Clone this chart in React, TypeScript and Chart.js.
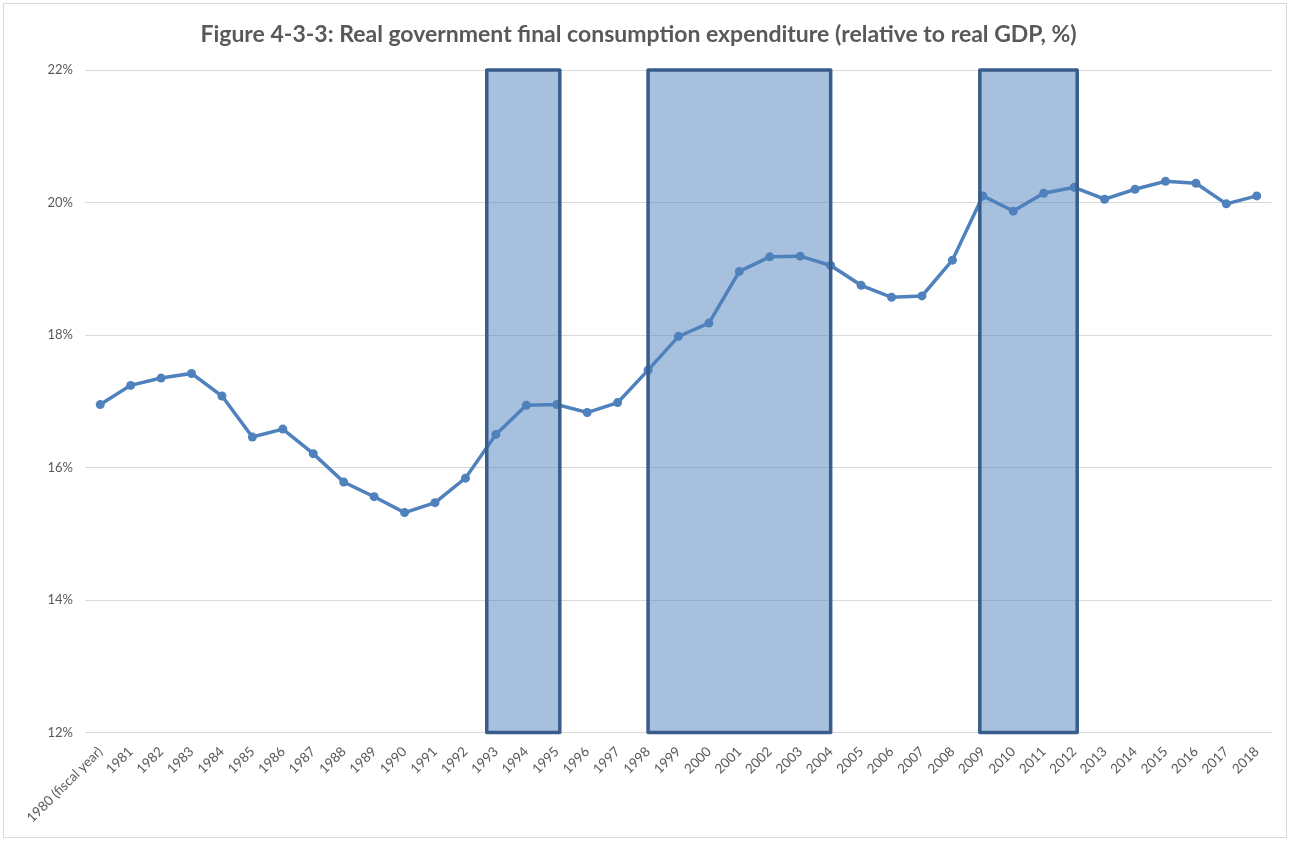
import React, { useEffect, useRef } from "react";
import { Chart, registerables } from "chart.js";

Chart.register(...registerables);

const years: string[] = [
  "1980 (fiscal year)", "1981", "1982", "1983", "1984", "1985", "1986", "1987", "1988", "1989",
  "1990", "1991", "1992", "1993", "1994", "1995", "1996", "1997", "1998", "1999",
  "2000", "2001", "2002", "2003", "2004", "2005", "2006", "2007", "2008", "2009",
  "2010", "2011", "2012", "2013", "2014", "2015", "2016", "2017", "2018",
];

const ratio: number[] = [
  16.95, 17.24, 17.35, 17.42, 17.08, 16.46, 16.58, 16.21, 15.78, 15.56,
  15.32, 15.47, 15.84, 16.5, 16.94, 16.95, 16.83, 16.98, 17.47, 17.98,
  18.18, 18.96, 19.18, 19.19, 19.05, 18.75, 18.57, 18.59, 19.13, 20.1,
  19.87, 20.14, 20.23, 20.05, 20.2, 20.32, 20.29, 19.98, 20.1,
];

// shaded periods, in category index units (start, end)
const periodStarts: number[] = [12.7, 18, 28.9];
const periodEnds: number[] = [15.1, 24, 32.1];

const yTicks: number[] = [12, 14, 16, 18, 20, 22];

const TITLE = "Figure 4-3-3: Real government final consumption expenditure (relative to real GDP, %)";

const shadePlugin = {
  id: "shadePeriods",
  afterDatasetsDraw(chart: any) {
    const { ctx, scales } = chart;
    const x = scales.x;
    const y = scales.y;
    const top = y.getPixelForValue(yTicks[yTicks.length - 1]);
    const bottom = y.getPixelForValue(yTicks[0]);
    ctx.save();
    for (let i = 0; i < periodStarts.length; i++) {
      const x0 = x.getPixelForValue(periodStarts[i]);
      const x1 = x.getPixelForValue(periodEnds[i]);
      ctx.fillStyle = "rgba(79,129,189,0.5)";
      ctx.fillRect(x0, top, x1 - x0, bottom - top);
      ctx.strokeStyle = "#385D8A";
      ctx.lineWidth = 3.5;
      ctx.lineJoin = "round";
      ctx.strokeRect(x0, top, x1 - x0, bottom - top);
    }
    ctx.restore();
  },
};

export default function App() {
  const canvasRef = useRef<HTMLCanvasElement | null>(null);

  useEffect(() => {
    document.body.style.margin = "0";
    const canvas = canvasRef.current;
    if (!canvas) return;
    const chart = new Chart(canvas, {
      type: "line",
      data: {
        labels: years,
        datasets: [
          {
            data: ratio,
            borderColor: "#4F81BD",
            backgroundColor: "#4F81BD",
            borderWidth: 3.5,
            pointRadius: 4.5,
            pointBorderWidth: 0,
            pointBackgroundColor: "#4F81BD",
            tension: 0,
          },
        ],
      },
      options: {
        animation: false,
        responsive: false,
        maintainAspectRatio: false,
        layout: { padding: { top: 12, right: 18, bottom: 12, left: 5 } },
        plugins: {
          legend: { display: false },
          tooltip: { enabled: false },
          title: {
            display: true,
            text: TITLE,
            color: "#595959",
            font: { family: "Lato", size: 23, weight: "bold" },
            padding: { top: 9, bottom: 21.4 },
          },
        },
        scales: {
          x: {
            type: "category",
            offset: true,
            grid: { display: false },
            border: { display: false },
            ticks: {
              color: "#595959",
              font: { family: "Lato", size: 13.5 },
              maxRotation: 45,
              minRotation: 45,
              autoSkip: false,
              padding: 3,
            },
          },
          y: {
            min: 12,
            max: 22,
            afterBuildTicks: (scale: any) => {
              scale.ticks = yTicks.map((v) => ({ value: v }));
            },
            afterFit: (scale: any) => {
              scale.width = 80;
            },
            grid: { color: "#d9d9d9", lineWidth: 1, drawTicks: false },
            border: { display: false },
            ticks: {
              color: "#595959",
              font: { family: "Lato", size: 13 },
              padding: 12,
              callback: (v: any) => `${v}%`,
            },
          },
        },
      },
      plugins: [shadePlugin],
    });
    return () => chart.destroy();
  }, []);

  return (
    <div
      style={{
        width: 1290,
        height: 841,
        position: "relative",
        boxSizing: "border-box",
        background: "#fff",
      }}
    >
      <div
        style={{
          position: "absolute",
          left: 3,
          top: 3,
          width: 1284,
          height: 835,
          border: "1px solid #d9d9d9",
          boxSizing: "border-box",
        }}
      />
      <canvas
        ref={canvasRef}
        width={1290}
        height={841}
        style={{ position: "absolute", left: 0, top: 0 }}
      />
    </div>
  );
}
